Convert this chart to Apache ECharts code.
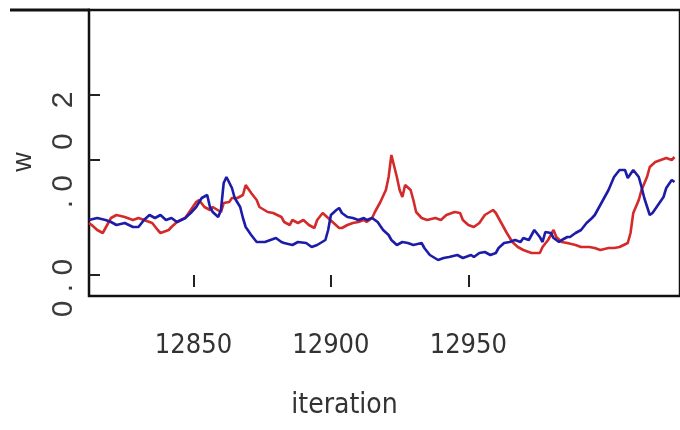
<!DOCTYPE html>
<html><head><meta charset="utf-8">
<script src="https://cdn.jsdelivr.net/npm/echarts@6/dist/echarts.min.js"></script>
<style>html,body{margin:0;padding:0;background:#fff}#c{width:680px;height:430px}</style>
</head><body><div id="c"></div>
<script>
// w values in units of 1e-4
const redIter = [12812,12813,12815,12817,12818,12820,12822,12825,12828,12830,12832,12835,12837,12838,12841,12842,12844,12847,12849,12851,12852,12854,12856,12857,12860,12861,12863,12864,12866,12868,12869,12871,12873,12874,12877,12879,12882,12883,12885,12886,12888,12890,12892,12894,12895,12897,12899,12901,12903,12904,12906,12908,12910,12912,12913,12915,12916,12918,12920,12921,12922,12924,12925,12926,12927,12929,12930,12931,12933,12935,12938,12940,12942,12945,12947,12948,12950,12952,12954,12956,12959,12960,12962,12964,12966,12968,12970,12973,12976,12977,12979,12981,12982,12984,12986,12989,12991,12994,12996,12998,13001,13003,13005,13008,13009,13010,13012,13013,13015,13016,13018,13020,13022,13024,13025];
const redW = [52,50,45,42,47,57,60,58,55,57,55,52,45,42,45,48,53,57,65,73,75,68,65,68,63,72,73,77,77,80,90,82,75,68,63,62,58,53,50,55,52,55,50,47,55,62,57,52,47,47,50,52,53,55,53,57,63,73,85,98,120,98,85,78,90,85,75,63,57,55,57,55,60,63,62,55,50,48,52,60,65,62,52,42,33,28,25,22,22,28,35,45,38,33,32,30,28,28,27,25,27,27,28,32,42,62,75,85,98,108,113,115,117,115,118];
const blueIter = [12812,12815,12818,12820,12822,12825,12828,12830,12832,12834,12836,12838,12840,12842,12844,12847,12849,12851,12853,12855,12856,12857,12859,12860,12861,12862,12864,12865,12867,12868,12869,12871,12873,12876,12878,12880,12882,12883,12886,12888,12891,12893,12895,12898,12899,12900,12902,12903,12904,12906,12908,12910,12912,12913,12915,12917,12919,12921,12922,12924,12926,12928,12930,12933,12934,12936,12939,12941,12943,12946,12948,12951,12952,12954,12956,12958,12960,12961,12963,12965,12967,12969,12970,12972,12974,12976,12977,12978,12980,12981,12983,12984,12986,12987,12989,12991,12993,12995,12996,12998,12999,13001,13003,13005,13007,13008,13010,13012,13013,13014,13016,13017,13019,13021,13022,13024,13025];
const blueW = [55,57,55,53,50,52,48,48,55,60,57,60,55,57,53,57,62,68,77,80,68,63,58,65,92,98,87,77,68,57,48,40,33,33,35,37,33,32,30,33,32,28,30,35,45,60,65,67,62,58,57,55,57,55,57,53,45,40,35,30,33,32,30,32,27,20,15,17,18,20,17,20,18,22,23,20,22,27,32,33,35,33,37,35,45,38,33,43,42,37,33,35,38,38,42,45,52,57,60,70,75,85,98,105,105,97,105,98,88,77,60,62,70,78,87,95,93];
const xTicks = [12850, 12900, 12950];
const yTicks = [0, 115, 180];
const yLabelPos = [-13, 125];
const yLabelText = ['0 . 0', '. 0   0   2'];

const chart = echarts.init(document.getElementById('c'), null, {renderer: 'canvas'});
const zip = (xs, ys) => xs.map((x, i) => [x, ys[i]]);
const narrow = "'Liberation Sans Narrow','DejaVu Sans Condensed','Arial Narrow',sans-serif";
chart.setOption({
  animation: false,
  backgroundColor: '#fff',
  grid: {left: 89, top: 10, right: -4, height: 286, show: true, borderColor: '#111', borderWidth: 2.5, backgroundColor: 'transparent'},
  xAxis: {
    type: 'value', min: 12812, max: 13027, offset: 6,
    axisLine: {show: false},
    splitLine: {show: false},
    axisTick: {show: true, length: 12, customValues: xTicks, lineStyle: {color: '#222', width: 2}},
    axisLabel: {customValues: xTicks, margin: 30, fontSize: 27, color: '#333', fontFamily: narrow,
      formatter: v => String(v)},
    name: 'iteration', nameLocation: 'middle', nameGap: 90,
    nameTextStyle: {fontSize: 28, color: '#333', padding: [0, 80, 0, 0], fontFamily: narrow}
  },
  yAxis: {
    type: 'value', min: -21, max: 265,
    axisLine: {show: false},
    splitLine: {show: false},
    axisTick: {show: true, inside: true, length: 11, customValues: yTicks, lineStyle: {color: '#222', width: 2}},
    axisLabel: {customValues: yLabelPos, rotate: 90, margin: 10, fontSize: 30, color: '#3a3a3a',
      fontFamily: "'Liberation Sans',sans-serif",
      formatter: v => yLabelText[yLabelPos.indexOf(v)] || ''},
    name: 'w', nameLocation: 'middle', nameGap: 52,
    nameTextStyle: {fontSize: 27, color: '#333', padding: [0, 18, 0, 0], fontFamily: "'Liberation Sans',sans-serif"}
  },
  graphic: [{type: 'line', shape: {x1: 10, y1: 10, x2: 90, y2: 10}, style: {stroke: '#111', lineWidth: 3}}],
  series: [
    {type: 'line', data: zip(redIter, redW), showSymbol: false, lineStyle: {color: '#d42a2a', width: 2.6}, itemStyle: {color: '#d42a2a'}},
    {type: 'line', data: zip(blueIter, blueW), showSymbol: false, lineStyle: {color: '#1c1ca8', width: 2.6}, itemStyle: {color: '#1c1ca8'}}
  ]
});
</script>
</body></html>
